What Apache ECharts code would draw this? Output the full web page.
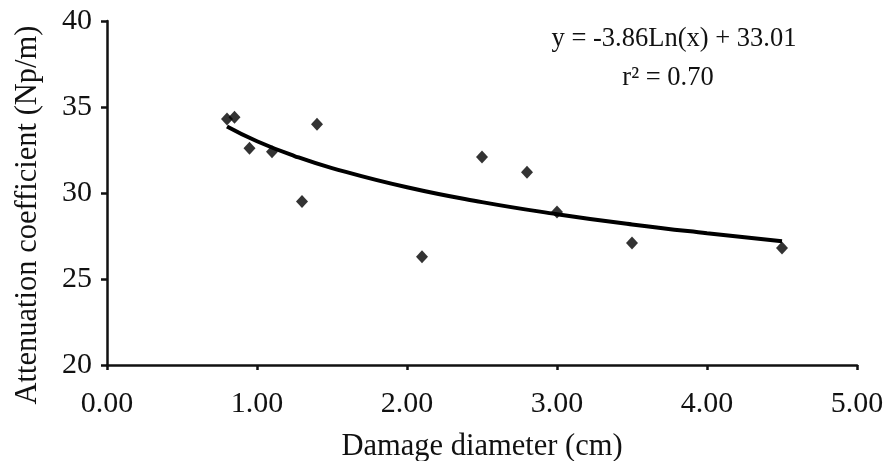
<!DOCTYPE html>
<html>
<head>
<meta charset="utf-8">
<script src="https://cdn.jsdelivr.net/npm/echarts@6/dist/echarts.min.js"></script>
<style>html,body{margin:0;padding:0;background:#fff}#c{width:885px;height:461px}</style>
</head>
<body>
<div id="c"></div>
<script>
// Damage diameter (cm)
const diameters = [0.80, 0.85, 0.95, 1.10, 1.30, 1.40, 2.10, 2.50, 2.80, 3.00, 3.50, 4.50];
// Attenuation coefficient (Np/m)
const attenuation = [34.3, 34.4, 32.6, 32.4, 29.5, 34.0, 26.3, 32.1, 31.2, 28.9, 27.1, 26.8];
// Trend line
const trendX = [0.80, 1.00, 1.25, 1.50, 2.00, 2.50, 3.00, 3.50, 4.00, 4.50];
const trendY = [33.87, 33.01, 32.15, 31.45, 30.33, 29.47, 28.77, 28.17, 27.66, 27.20];
const xTicks = [0, 1, 2, 3, 4, 5];
const yTicks = [20, 25, 30, 35, 40];
const equationText = 'y = -3.86Ln(x) + 33.01';
const r2Text = 'r\u00B2 = 0.70';

const font = '"Liberation Serif", "Times New Roman", serif';
const ink = '#111111';
const chart = echarts.init(document.getElementById('c'));
chart.setOption({
  backgroundColor: '#ffffff',
  animation: false,
  grid: { left: 107, right: 28, top: 21, bottom: 96, containLabel: false, outerBoundsMode: 'none' },
  xAxis: {
    type: 'value', min: xTicks[0], max: xTicks[xTicks.length - 1], interval: 1,
    name: 'Damage diameter (cm)', nameLocation: 'middle', nameGap: 66,
    nameTextStyle: { fontFamily: font, fontSize: 30.5, color: ink },
    axisLine: { lineStyle: { color: ink, width: 2.5 } },
    axisTick: { show: true, length: 5, lineStyle: { color: ink, width: 2.5 } },
    axisLabel: { fontFamily: font, fontSize: 30, color: ink, margin: 24,
      formatter: v => v.toFixed(2) },
    splitLine: { show: false }
  },
  yAxis: {
    type: 'value', min: yTicks[0], max: yTicks[yTicks.length - 1], interval: 5,
    name: 'Attenuation coefficient (Np/m)', nameLocation: 'middle', nameGap: 64,
    nameTextStyle: { fontFamily: font, fontSize: 30.5, color: ink, padding: [0, 44, 0, 0] },
    axisLine: { show: true, lineStyle: { color: ink, width: 2.5 } },
    axisTick: { show: true, length: 6, lineStyle: { color: ink, width: 2.5 } },
    axisLabel: { fontFamily: font, fontSize: 30, color: ink, margin: 15 },
    splitLine: { show: false }
  },
  graphic: [
    { type: 'text', style: { text: equationText, x: 674, y: 39, textAlign: 'center', textVerticalAlign: 'middle', font: '26.5px ' + font, fill: ink } },
    { type: 'text', style: { text: r2Text, x: 668, y: 78, textAlign: 'center', textVerticalAlign: 'middle', font: '26.5px ' + font, fill: ink } }
  ],
  series: [
    {
      type: 'line', data: trendX.map((x, i) => [x, trendY[i]]),
      smooth: true, showSymbol: false, symbol: 'none',
      lineStyle: { color: '#000', width: 4 }, z: 2
    },
    {
      type: 'scatter', data: diameters.map((x, i) => [x, attenuation[i]]),
      symbol: 'diamond', symbolSize: [12, 13],
      itemStyle: { color: '#000' }, z: 3
    }
  ]
});
</script>
</body>
</html>
